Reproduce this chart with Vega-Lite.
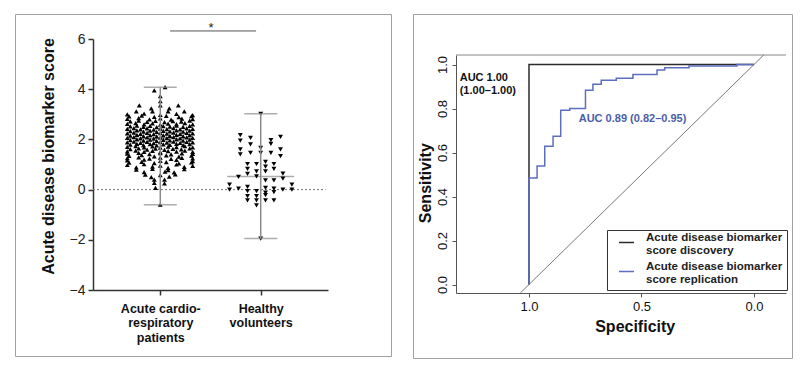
{
"$schema": "https://vega.github.io/schema/vega-lite/v6.json",
"background": "white",
"padding": {"left": 14, "top": 13, "right": 5, "bottom": 5},
"spacing": 20,
"config": {
  "font": "Liberation Sans",
  "view": {"stroke": "#a0a0a0", "strokeWidth": 1},
  "axis": {"grid": false, "labelFont": "Liberation Sans", "titleFont": "Liberation Sans"},
  "legend": {"labelFont": "Liberation Sans"}
},
"datasets": {
"pts": [
{"g":"A","v":4.08,"j":0.8},{"g":"A","v":3.95,"j":-1},{"g":"A","v":3.72,"j":0},{"g":"A","v":3.52,"j":0},
{"g":"A","v":3.36,"j":-3.5},{"g":"A","v":3.36,"j":0},{"g":"A","v":3.36,"j":3},
{"g":"A","v":3.24,"j":-1.5},{"g":"A","v":3.24,"j":1.5},
{"g":"A","v":3.12,"j":-4},{"g":"A","v":3.12,"j":-1.3},{"g":"A","v":3.12,"j":1.3},{"g":"A","v":3.12,"j":4},
{"g":"A","v":3.0,"j":-5.5},{"g":"A","v":3.03,"j":-2.7},{"g":"A","v":2.98,"j":0},{"g":"A","v":3.02,"j":2.7},{"g":"A","v":2.97,"j":5.4},
{"g":"A","v":2.92,"j":-5.2},{"g":"A","v":2.95,"j":-3.1},{"g":"A","v":2.90,"j":-1},{"g":"A","v":2.94,"j":1},{"g":"A","v":2.89,"j":3.1},{"g":"A","v":2.93,"j":5.2},
{"g":"A","v":2.82,"j":-5.5},{"g":"A","v":2.85,"j":-3.6},{"g":"A","v":2.80,"j":-1.8},{"g":"A","v":2.84,"j":0},{"g":"A","v":2.79,"j":1.8},{"g":"A","v":2.83,"j":3.6},{"g":"A","v":2.81,"j":5.4},
{"g":"A","v":2.72,"j":-5},{"g":"A","v":2.75,"j":-3.6},{"g":"A","v":2.70,"j":-2.2},{"g":"A","v":2.74,"j":-0.8},{"g":"A","v":2.69,"j":0.7},{"g":"A","v":2.73,"j":2.1},{"g":"A","v":2.71,"j":3.5},{"g":"A","v":2.75,"j":4.9},
{"g":"A","v":2.62,"j":-5.5},{"g":"A","v":2.65,"j":-4.1},{"g":"A","v":2.60,"j":-2.7},{"g":"A","v":2.64,"j":-1.3},{"g":"A","v":2.59,"j":0},{"g":"A","v":2.63,"j":1.3},{"g":"A","v":2.61,"j":2.7},{"g":"A","v":2.65,"j":4.1},{"g":"A","v":2.60,"j":5.4},
{"g":"A","v":2.52,"j":-5},{"g":"A","v":2.55,"j":-3.9},{"g":"A","v":2.50,"j":-2.8},{"g":"A","v":2.54,"j":-1.7},{"g":"A","v":2.49,"j":-0.6},{"g":"A","v":2.53,"j":0.5},{"g":"A","v":2.51,"j":1.6},{"g":"A","v":2.55,"j":2.7},{"g":"A","v":2.50,"j":3.8},{"g":"A","v":2.54,"j":4.9},
{"g":"A","v":2.42,"j":-5.5},{"g":"A","v":2.45,"j":-4.4},{"g":"A","v":2.40,"j":-3.3},{"g":"A","v":2.44,"j":-2.2},{"g":"A","v":2.39,"j":-1.1},{"g":"A","v":2.43,"j":0},{"g":"A","v":2.41,"j":1.1},{"g":"A","v":2.45,"j":2.2},{"g":"A","v":2.40,"j":3.3},{"g":"A","v":2.44,"j":4.4},{"g":"A","v":2.42,"j":5.4},
{"g":"A","v":2.33,"j":-5},{"g":"A","v":2.36,"j":-3.9},{"g":"A","v":2.31,"j":-2.8},{"g":"A","v":2.35,"j":-1.7},{"g":"A","v":2.30,"j":-0.6},{"g":"A","v":2.34,"j":0.5},{"g":"A","v":2.32,"j":1.6},{"g":"A","v":2.36,"j":2.7},{"g":"A","v":2.31,"j":3.8},{"g":"A","v":2.35,"j":4.9},
{"g":"A","v":2.24,"j":-5.5},{"g":"A","v":2.27,"j":-4.4},{"g":"A","v":2.22,"j":-3.3},{"g":"A","v":2.26,"j":-2.2},{"g":"A","v":2.21,"j":-1.1},{"g":"A","v":2.25,"j":0},{"g":"A","v":2.23,"j":1.1},{"g":"A","v":2.27,"j":2.2},{"g":"A","v":2.22,"j":3.3},{"g":"A","v":2.26,"j":4.4},{"g":"A","v":2.24,"j":5.4},
{"g":"A","v":2.15,"j":-5},{"g":"A","v":2.18,"j":-3.9},{"g":"A","v":2.13,"j":-2.8},{"g":"A","v":2.17,"j":-1.7},{"g":"A","v":2.12,"j":-0.6},{"g":"A","v":2.16,"j":0.5},{"g":"A","v":2.14,"j":1.6},{"g":"A","v":2.18,"j":2.7},{"g":"A","v":2.13,"j":3.8},{"g":"A","v":2.17,"j":4.9},
{"g":"A","v":2.06,"j":-5.5},{"g":"A","v":2.09,"j":-4.4},{"g":"A","v":2.04,"j":-3.3},{"g":"A","v":2.08,"j":-2.2},{"g":"A","v":2.03,"j":-1.1},{"g":"A","v":2.07,"j":0},{"g":"A","v":2.05,"j":1.1},{"g":"A","v":2.09,"j":2.2},{"g":"A","v":2.04,"j":3.3},{"g":"A","v":2.08,"j":4.4},{"g":"A","v":2.06,"j":5.4},
{"g":"A","v":1.97,"j":-5},{"g":"A","v":2.00,"j":-3.9},{"g":"A","v":1.95,"j":-2.8},{"g":"A","v":1.99,"j":-1.7},{"g":"A","v":1.94,"j":-0.6},{"g":"A","v":1.98,"j":0.5},{"g":"A","v":1.96,"j":1.6},{"g":"A","v":2.00,"j":2.7},{"g":"A","v":1.95,"j":3.8},{"g":"A","v":1.99,"j":4.9},
{"g":"A","v":1.88,"j":-5.5},{"g":"A","v":1.91,"j":-4.4},{"g":"A","v":1.86,"j":-3.3},{"g":"A","v":1.90,"j":-2.2},{"g":"A","v":1.85,"j":-1.1},{"g":"A","v":1.89,"j":0},{"g":"A","v":1.87,"j":1.1},{"g":"A","v":1.91,"j":2.2},{"g":"A","v":1.86,"j":3.3},{"g":"A","v":1.90,"j":4.4},{"g":"A","v":1.88,"j":5.4},
{"g":"A","v":1.79,"j":-5},{"g":"A","v":1.82,"j":-3.9},{"g":"A","v":1.77,"j":-2.8},{"g":"A","v":1.81,"j":-1.7},{"g":"A","v":1.76,"j":-0.6},{"g":"A","v":1.80,"j":0.5},{"g":"A","v":1.78,"j":1.6},{"g":"A","v":1.82,"j":2.7},{"g":"A","v":1.77,"j":3.8},{"g":"A","v":1.81,"j":4.9},
{"g":"A","v":1.70,"j":-5.5},{"g":"A","v":1.73,"j":-4.1},{"g":"A","v":1.68,"j":-2.7},{"g":"A","v":1.72,"j":-1.3},{"g":"A","v":1.67,"j":0},{"g":"A","v":1.71,"j":1.3},{"g":"A","v":1.69,"j":2.7},{"g":"A","v":1.73,"j":4.1},{"g":"A","v":1.68,"j":5.4},
{"g":"A","v":1.61,"j":-5},{"g":"A","v":1.64,"j":-3.6},{"g":"A","v":1.59,"j":-2.2},{"g":"A","v":1.63,"j":-0.8},{"g":"A","v":1.58,"j":0.7},{"g":"A","v":1.62,"j":2.1},{"g":"A","v":1.60,"j":3.5},{"g":"A","v":1.64,"j":4.9},
{"g":"A","v":1.52,"j":-5.5},{"g":"A","v":1.55,"j":-4.1},{"g":"A","v":1.50,"j":-2.7},{"g":"A","v":1.54,"j":-1.3},{"g":"A","v":1.49,"j":0},{"g":"A","v":1.53,"j":1.3},{"g":"A","v":1.51,"j":2.7},{"g":"A","v":1.55,"j":4.1},{"g":"A","v":1.50,"j":5.4},
{"g":"A","v":1.43,"j":-5.5},{"g":"A","v":1.46,"j":-3.6},{"g":"A","v":1.41,"j":-1.8},{"g":"A","v":1.45,"j":0},{"g":"A","v":1.40,"j":1.8},{"g":"A","v":1.44,"j":3.6},{"g":"A","v":1.42,"j":5.4},
{"g":"A","v":1.34,"j":-5.2},{"g":"A","v":1.37,"j":-3.1},{"g":"A","v":1.32,"j":-1},{"g":"A","v":1.36,"j":1},{"g":"A","v":1.31,"j":3.1},{"g":"A","v":1.35,"j":5.2},
{"g":"A","v":1.25,"j":-5.5},{"g":"A","v":1.28,"j":-3.6},{"g":"A","v":1.23,"j":-1.8},{"g":"A","v":1.27,"j":0},{"g":"A","v":1.22,"j":1.8},{"g":"A","v":1.26,"j":3.6},{"g":"A","v":1.24,"j":5.4},
{"g":"A","v":1.16,"j":-5.5},{"g":"A","v":1.19,"j":-2.7},{"g":"A","v":1.14,"j":0},{"g":"A","v":1.18,"j":2.7},{"g":"A","v":1.13,"j":5.4},
{"g":"A","v":1.07,"j":-5.2},{"g":"A","v":1.10,"j":-3.1},{"g":"A","v":1.05,"j":-1},{"g":"A","v":1.09,"j":1},{"g":"A","v":1.04,"j":3.1},{"g":"A","v":1.08,"j":5.2},
{"g":"A","v":0.98,"j":-5.5},{"g":"A","v":1.01,"j":-2.7},{"g":"A","v":0.96,"j":0},{"g":"A","v":1.00,"j":2.7},{"g":"A","v":0.95,"j":5.4},
{"g":"A","v":0.89,"j":-4},{"g":"A","v":0.92,"j":-1.3},{"g":"A","v":0.87,"j":1.3},{"g":"A","v":0.91,"j":4},
{"g":"A","v":0.80,"j":-4},{"g":"A","v":0.83,"j":-1.3},{"g":"A","v":0.78,"j":1.3},{"g":"A","v":0.82,"j":4},
{"g":"A","v":0.70,"j":-2.7},{"g":"A","v":0.72,"j":0.8},{"g":"A","v":0.69,"j":2.3},
{"g":"A","v":0.60,"j":-2.5},{"g":"A","v":0.58,"j":0},{"g":"A","v":0.61,"j":2.5},
{"g":"A","v":0.50,"j":-1.5},{"g":"A","v":0.52,"j":1.5},
{"g":"A","v":0.40,"j":-1},{"g":"A","v":0.40,"j":0.7},
{"g":"A","v":0.27,"j":-1},{"g":"A","v":0.25,"j":0.7},
{"g":"A","v":0.07,"j":-0.8},
{"g":"A","v":-0.6,"j":0},
{"g":"H","v":3.02,"j":0},{"g":"H","v":2.17,"j":-3.4},{"g":"H","v":1.95,"j":-3.4},{"g":"H","v":2.06,"j":-1.7},{"g":"H","v":1.80,"j":-1.7},
{"g":"H","v":2.10,"j":3.3},{"g":"H","v":1.97,"j":1.7},{"g":"H","v":1.82,"j":1.7},{"g":"H","v":1.66,"j":0},{"g":"H","v":1.60,"j":-3.4},
{"g":"H","v":1.40,"j":-3.4},{"g":"H","v":1.46,"j":-1.7},{"g":"H","v":1.46,"j":0},{"g":"H","v":1.46,"j":1.7},{"g":"H","v":1.60,"j":3.3},
{"g":"H","v":1.33,"j":3.3},{"g":"H","v":1.02,"j":-2.2},{"g":"H","v":1.02,"j":-0.7},{"g":"H","v":1.10,"j":0.8},{"g":"H","v":1.02,"j":2.2},
{"g":"H","v":0.83,"j":-2.2},{"g":"H","v":0.73,"j":-0.7},{"g":"H","v":0.92,"j":0.8},{"g":"H","v":0.73,"j":0.8},{"g":"H","v":0.83,"j":2.2},
{"g":"H","v":0.63,"j":-2.2},{"g":"H","v":0.64,"j":3.7},{"g":"H","v":0.51,"j":-3.7},{"g":"H","v":0.53,"j":-0.7},{"g":"H","v":0.37,"j":0.8},
{"g":"H","v":0.37,"j":2.2},{"g":"H","v":0.44,"j":3.7},{"g":"H","v":0.20,"j":-5.2},{"g":"H","v":0.00,"j":-5.2},{"g":"H","v":0.04,"j":-3.7},
{"g":"H","v":0.11,"j":-2.2},{"g":"H","v":-0.06,"j":-2.2},{"g":"H","v":-0.06,"j":-0.7},{"g":"H","v":0.07,"j":0.8},{"g":"H","v":0.04,"j":2.2},
{"g":"H","v":-0.10,"j":2.2},{"g":"H","v":0.00,"j":3.7},{"g":"H","v":0.20,"j":5.2},{"g":"H","v":0.00,"j":5.2},{"g":"H","v":-0.12,"j":0.8},
{"g":"H","v":-0.26,"j":-2.2},{"g":"H","v":-0.43,"j":-2.2},{"g":"H","v":-0.26,"j":-0.7},{"g":"H","v":-0.43,"j":-0.7},{"g":"H","v":-0.63,"j":-0.7},
{"g":"H","v":-0.22,"j":0.8},{"g":"H","v":-0.43,"j":0.8},{"g":"H","v":-0.43,"j":2.2},{"g":"H","v":-1.95,"j":0}
],
"summ": [
{"g":"A","lo":-0.6,"hi":4.08,"m":2.05},
{"g":"H","lo":-1.95,"hi":3.02,"m":0.52}
],
"roc": [
{"curve":"discovery","spec":0,"sens":1},
{"curve":"discovery","spec":1,"sens":0},
{"curve":"replication","spec":0,"sens":1},
{"curve":"replication","spec":0.076,"sens":0.993},
{"curve":"replication","spec":0.289,"sens":0.985},
{"curve":"replication","spec":0.397,"sens":0.975},
{"curve":"replication","spec":0.431,"sens":0.955},
{"curve":"replication","spec":0.538,"sens":0.937},
{"curve":"replication","spec":0.612,"sens":0.928},
{"curve":"replication","spec":0.679,"sens":0.91},
{"curve":"replication","spec":0.716,"sens":0.883},
{"curve":"replication","spec":0.749,"sens":0.80},
{"curve":"replication","spec":0.819,"sens":0.792},
{"curve":"replication","spec":0.859,"sens":0.674},
{"curve":"replication","spec":0.893,"sens":0.628},
{"curve":"replication","spec":0.93,"sens":0.539},
{"curve":"replication","spec":0.964,"sens":0.484},
{"curve":"replication","spec":1.0,"sens":0}
],
"diag": [
{"spec":1.0386,"sens":-0.0386},
{"spec":-0.0432,"sens":1.0432}
]
},
"hconcat": [
{
 "width": 376, "height": 342,
 "resolve": {"scale": {"x": "independent"}},
 "layer": [
  {"data": {"values": [{}]},
   "mark": {"type": "rule", "strokeDash": [2, 2], "color": "#777777", "strokeWidth": 1},
   "encoding": {
     "x": {"datum": 0, "type": "quantitative", "scale": {"domain": [0, 1], "range": [78, 313]}, "axis": null},
     "x2": {"datum": 0.99},
     "y": {"datum": 0, "type": "quantitative"}}},
  {"data": {"name": "summ"},
   "mark": {"type": "tick", "color": "#8a8a8a", "size": 67, "thickness": 1.5},
   "encoding": {
     "x": {"field": "g", "type": "nominal", "scale": {"type": "point", "domain": ["A", "H"], "range": [78, 313], "padding": 0.67}, "axis": null},
     "y": {"field": "m", "type": "quantitative"}}},
  {"data": {"name": "pts"},
   "mark": {"type": "point", "filled": true, "color": "black", "size": 24, "opacity": 1},
   "encoding": {
     "x": {"field": "g", "type": "nominal", "scale": {"type": "point", "domain": ["A", "H"], "range": [78, 313], "padding": 0.67},
       "axis": {"title": null, "offset": -66, "tickSize": 5, "tickColor": "#333333", "tickWidth": 1.5, "domainColor": "#333333", "domainWidth": 1.5,
         "labelAngle": 0, "labelFontSize": 12.5, "labelFontWeight": "bold", "labelColor": "#111111", "labelPadding": 7, "labelLineHeight": 14.5,
         "labelExpr": "datum.value == 'A' ? ['Acute cardio-', 'respiratory', 'patients'] : ['Healthy', 'volunteers']"}},
     "xOffset": {"field": "j", "type": "quantitative", "scale": {"domain": [-6, 6], "range": [-36, 36]}},
     "y": {"field": "v", "type": "quantitative", "scale": {"domain": [-4, 6], "range": [276, 25], "nice": false, "zero": false},
       "axis": {"title": "Acute disease biomarker score", "values": [-4, -2, 0, 2, 4, 6], "offset": -78, "tickSize": 5, "tickColor": "#333333", "tickWidth": 1.5,
         "domainColor": "#333333", "domainWidth": 1.5, "labelFontSize": 14, "labelColor": "#222222", "labelPadding": 3,
         "titleFontSize": 16, "titleFontWeight": "bold", "titleColor": "#111111", "titleX": -44.5, "titleY": 142, "titleBaseline": "middle", "titleAlign": "center", "titleAngle": -90}},
     "shape": {"field": "g", "type": "nominal", "scale": {"domain": ["A", "H"], "range": ["triangle-up", "triangle-down"]}, "legend": null}}},
  {"data": {"name": "summ"},
   "mark": {"type": "rule", "color": "#8a8a8a", "strokeWidth": 1.5},
   "encoding": {
     "x": {"field": "g", "type": "nominal", "scale": {"type": "point", "domain": ["A", "H"], "range": [78, 313], "padding": 0.67}, "axis": null},
     "y": {"field": "lo", "type": "quantitative"},
     "y2": {"field": "hi"}}},
  {"data": {"name": "summ"},
   "mark": {"type": "tick", "color": "#8a8a8a", "size": 33, "thickness": 1.5},
   "encoding": {
     "x": {"field": "g", "type": "nominal", "scale": {"type": "point", "domain": ["A", "H"], "range": [78, 313], "padding": 0.67}, "axis": null},
     "y": {"field": "lo", "type": "quantitative"}}},
  {"data": {"name": "summ"},
   "mark": {"type": "tick", "color": "#8a8a8a", "size": 33, "thickness": 1.5},
   "encoding": {
     "x": {"field": "g", "type": "nominal", "scale": {"type": "point", "domain": ["A", "H"], "range": [78, 313], "padding": 0.67}, "axis": null},
     "y": {"field": "hi", "type": "quantitative"}}},
  {"data": {"values": [{}]},
   "mark": {"type": "rule", "color": "#555555", "strokeWidth": 1},
   "encoding": {
     "x": {"datum": 0.328, "type": "quantitative", "scale": {"domain": [0, 1], "range": [78, 313]}, "axis": null},
     "x2": {"datum": 0.694},
     "y": {"datum": 6.32, "type": "quantitative"}}},
  {"data": {"values": [{}]},
   "mark": {"type": "text", "text": "*", "fontSize": 13, "baseline": "middle", "color": "#222222"},
   "encoding": {
     "x": {"datum": 0.502, "type": "quantitative", "scale": {"domain": [0, 1], "range": [78, 313]}, "axis": null},
     "y": {"datum": 6.45, "type": "quantitative"}}}
 ]
},
{
 "width": 379, "height": 344,
 "layer": [
  {"data": {"values": [{}]},
   "mark": {"type": "rule", "color": "#888888", "strokeWidth": 1},
   "encoding": {
     "x": {"datum": 1.3244, "type": "quantitative"},
     "x2": {"datum": -0.1422},
     "y": {"datum": 1.0432, "type": "quantitative"}}},
  {"data": {"name": "diag"},
   "mark": {"type": "line", "color": "#555555", "strokeWidth": 0.8},
   "encoding": {
     "x": {"field": "spec", "type": "quantitative"},
     "y": {"field": "sens", "type": "quantitative"}}},
  {"data": {"name": "roc"},
   "transform": [{"filter": "datum.curve == 'discovery'"}],
   "mark": {"type": "line", "interpolate": "step-before", "strokeWidth": 1.5},
   "encoding": {
     "x": {"field": "spec", "type": "quantitative", "scale": {"domain": [-0.1422, 1.3244], "range": [373, 43], "nice": false, "zero": false},
       "axis": {"title": "Specificity", "values": [1, 0.5, 0], "format": ".1f", "offset": -65, "tickSize": 4, "tickColor": "#555555", "domainColor": "#555555",
         "labelFontSize": 13, "labelColor": "#111111", "labelPadding": 3, "titleFontSize": 16, "titleFontWeight": "bold", "titleColor": "#111111",
         "titleX": 221.7, "titleY": 33, "titleBaseline": "middle", "titleAlign": "center"}},
     "y": {"field": "sens", "type": "quantitative", "scale": {"domain": [-0.0386, 1.0432], "range": [279, 41], "nice": false, "zero": false},
       "axis": {"title": "Sensitivity", "values": [0, 0.2, 0.4, 0.6, 0.8, 1], "format": ".1f", "offset": -43, "tickSize": 4, "tickColor": "#555555", "domainColor": "#555555",
         "labelAngle": -90, "labelFontSize": 13, "labelColor": "#111111", "labelPadding": 3, "titleFontSize": 16, "titleFontWeight": "bold", "titleColor": "#111111",
         "titleX": -30.3, "titleY": 168.7, "titleBaseline": "middle", "titleAlign": "center", "titleAngle": -90}},
     "color": {"field": "curve", "type": "nominal", "scale": {"domain": ["discovery", "replication"], "range": ["#2b2b2b", "#5b6fbe"]},
       "legend": {"orient": "none", "legendX": 592, "legendY": 216, "title": null, "strokeColor": "#333333", "fillColor": "white", "padding": 4,
         "symbolType": "stroke", "symbolSize": 225, "symbolStrokeWidth": 1.5, "symbolOffset": 7, "labelOffset": 11,
         "labelFontSize": 11.5, "labelFontWeight": "bold", "labelColor": "#222222", "labelLimit": 300, "rowPadding": 3, "labelBaseline": "bottom",
         "labelExpr": "datum.label == 'discovery' ? ['Acute disease biomarker', 'score discovery'] : ['Acute disease biomarker', 'score replication']"}}}},
  {"data": {"name": "roc"},
   "transform": [{"filter": "datum.curve == 'replication'"}],
   "mark": {"type": "line", "interpolate": "step-before", "strokeWidth": 1.5},
   "encoding": {
     "x": {"field": "spec", "type": "quantitative"},
     "y": {"field": "sens", "type": "quantitative"},
     "color": {"field": "curve", "type": "nominal"}}},
  {"data": {"values": [{}]},
   "mark": {"type": "text", "text": ["AUC 1.00", "(1.00–1.00)"], "align": "left", "baseline": "middle", "fontSize": 11, "fontWeight": "bold", "lineHeight": 12.5, "color": "#111111"},
   "encoding": {
     "x": {"datum": 1.308, "type": "quantitative"},
     "y": {"datum": 0.937, "type": "quantitative"}}},
  {"data": {"values": [{}]},
   "mark": {"type": "text", "text": "AUC 0.89 (0.82–0.95)", "align": "left", "baseline": "middle", "fontSize": 11, "fontWeight": "bold", "color": "#4a5daa"},
   "encoding": {
     "x": {"datum": 0.779, "type": "quantitative"},
     "y": {"datum": 0.752, "type": "quantitative"}}}
 ]
}
]
}
